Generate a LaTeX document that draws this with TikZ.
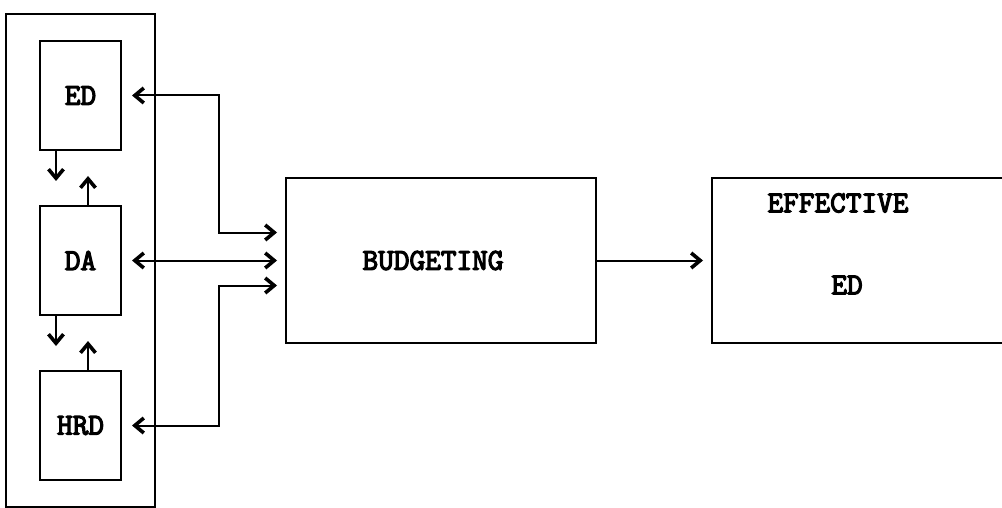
\documentclass[tikz,border=0pt]{standalone}
\usepackage{fontspec}
\newfontfamily\boldtt[FakeBold=4]{Latin Modern Mono}
\usetikzlibrary{arrows.meta}
\usetikzlibrary{fit}
\usetikzlibrary{positioning}

\begin{document}
\begin{tikzpicture}[
		x=0.5pt, y=-0.5pt,
		node distance=27pt,
		every node/.style={font=\boldtt\fontsize{15.2}{18}\selectfont},
		block/.style={draw, line width=1pt, minimum width=40.5pt, minimum height=54.5pt, inner sep=0pt},
		bigblock/.style={draw, line width=1pt, minimum height=82pt, inner sep=0pt},
		tip/.tip={Straight Barb[length=4.5pt, width=7.5pt, line width=1.8pt]},
		arrow/.style={line width=1pt, -tip},
		link/.style={line width=1pt, tip-tip, shorten <=5pt, shorten >=4pt},
	]
	\useasboundingbox (0,0) rectangle (1002,508);
	\node[block] (ed) at (80.5,95.5) {ED};
	\node[block, below=of ed] (da) {DA};
	\node[block, below=of da] (hrd) {HRD};
	\node[draw, line width=1pt, inner xsep=16.5pt, inner ysep=13pt, fit=(ed) (hrd)] (group) {};
	\node[bigblock, minimum width=155pt, right=64.5pt of group] (budget) {BUDGETING\hspace*{8pt}};
	\node[bigblock, minimum width=147pt, right=57pt of budget] (effect) {};
	\node (efftop) at (838,203) {EFFECTIVE};
	\node (effed) at (847,285) {ED};
	\coordinate (bus) at (219,0);
	
	% inside the group
	\draw[arrow] ([xshift=-12.25pt]ed.south) -- ++(0,30);
	\draw[arrow] ([xshift=3.75pt]da.north) -- ++(0,-29);
	\draw[arrow] ([xshift=-12.25pt]da.south) -- ++(0,30);
	\draw[arrow] ([xshift=3.75pt]hrd.north) -- ++(0,-29);
	
	% to budgeting
	\draw[link] (ed.east) -- (ed.east -| bus) |- ([yshift=14pt]budget.west);
	\draw[link] (da) -- (budget);
	\draw[link] (hrd.east) -- (hrd.east -| bus) |- ([yshift=-12.5pt]budget.west);
	\draw[arrow, shorten >=4pt] (budget) -- (effect);
\end{tikzpicture}
\end{document}
